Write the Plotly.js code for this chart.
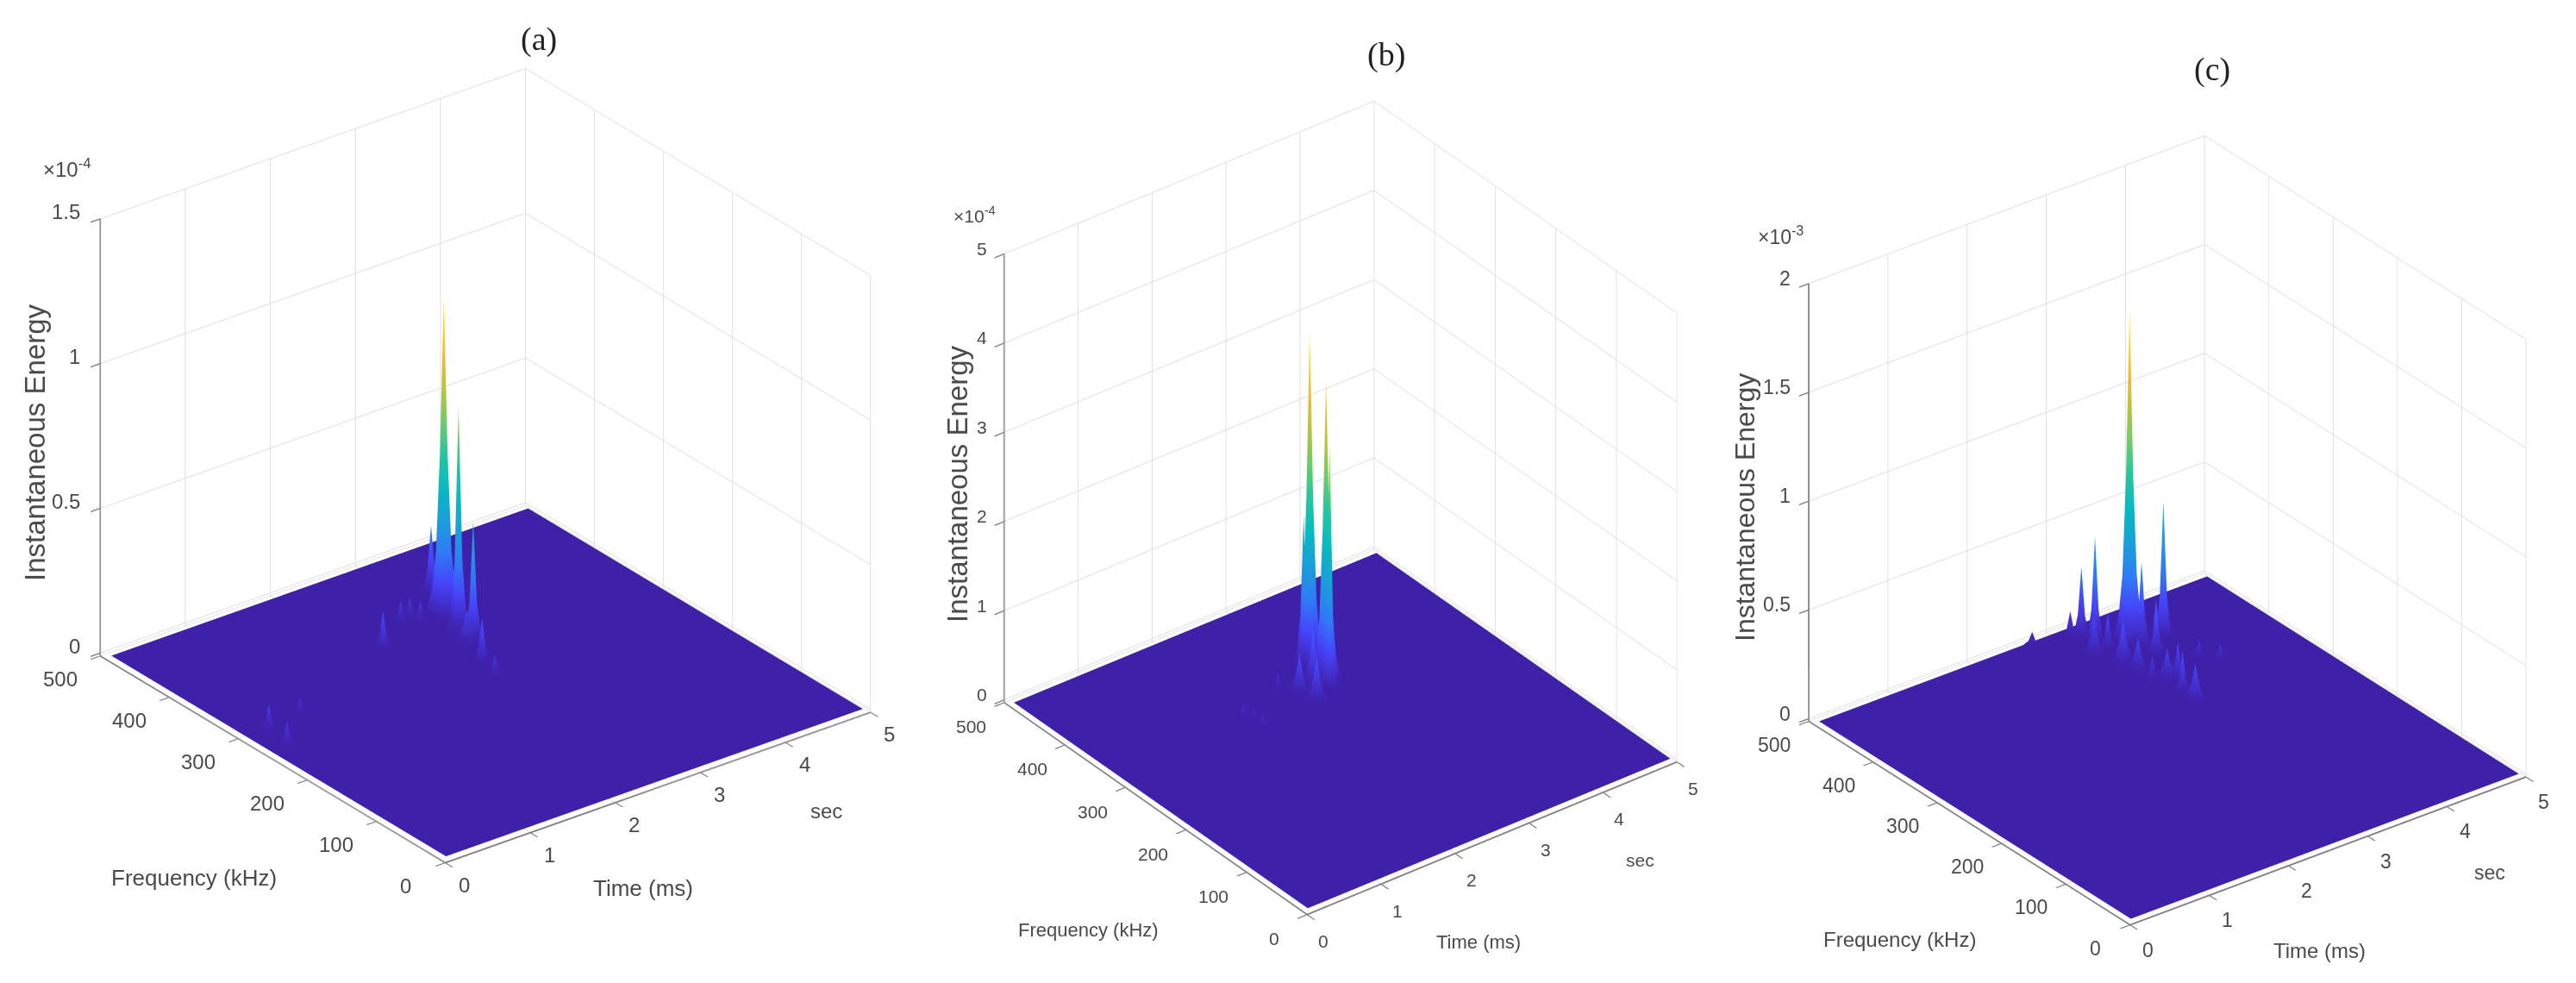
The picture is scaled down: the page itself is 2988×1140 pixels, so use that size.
<!DOCTYPE html>
<html><head><meta charset="utf-8">
<script src="https://cdn.plot.ly/plotly-3.0.1.min.js"></script>
<style>html,body{margin:0;padding:0;background:#fff}#plot{width:2988px;height:1140px;filter:blur(0.7px)}</style>
</head><body><div id="plot"></div>
<script>
// ---- values ----
const panelNames = ['(a)', '(b)', '(c)'];
const timeTicks = [0, 1, 2, 3, 4, 5];
const freqTicks = [0, 100, 200, 300, 400, 500];
const energyTicksA = [0, 0.5, 1, 1.5];
const energyLabelsA = ['0', '0.5', '1', '1.5'];
const energyTicksB = [0, 1, 2, 3, 4, 5];
const energyLabelsB = ['0', '1', '2', '3', '4', '5'];
const energyTicksC = [0, 0.5, 1, 1.5, 2];
const energyLabelsC = ['0', '0.5', '1', '1.5', '2'];
const multipliers = ['×10<sup>-4</sup>', '×10<sup>-4</sup>', '×10<sup>-3</sup>'];

// spikes: time (ms), frequency (kHz), height (in the panel's ×10^n unit), foot shape (1 wide, 0 narrow)
const peakTimeA = [3.03, 2.98, 2.93, 3.21, 2.16, 2.60, 2.73, 2.76, 2.66, 2.73, 0.30, 0.25, 0.75, 2.95, 2.85, 3.05];
const peakFreqA = [375, 347.5, 320, 415, 355, 385, 387.5, 375, 255, 282.5, 292.5, 260, 302.5, 345, 320, 365];
const peakEnergyA = [1.10, 0.76, 0.41, 0.23, 0.13, 0.075, 0.07, 0.075, 0.07, 0.15, 0.09, 0.08, 0.05, 0.13, 0.11, 0.14];
const peakShapeA = [1, 0, 0, 0, 0, 0, 0, 0, 0, 0, 0, 0, 0, 1, 1, 1];

const peakTimeB = [3.03, 2.99, 2.92, 3.02, 1.82, 1.88, 1.88, 2.48, 2.82, 2.66, 2.61];
const peakFreqB = [365, 335, 320, 375, 327.5, 317.5, 302.5, 350, 335, 307.5, 330];
const peakEnergyB = [3.75, 3.34, 2.7, 1.63, 0.15, 0.15, 0.15, 0.16, 0.6, 0.5, 0.45];
const peakShapeB = [1, 1, 0, 0, 0, 0, 0, 0, 1, 1, 1];

const peakTimeC = [3.53, 3.85, 3.26, 3.21, 3.57, 3.58, 3.29, 3.43, 3.31, 3.87, 3.99, 3.22, 3.24, 3.11, 2.70, 3.21, 3.22, 3.08, 3.34];
const peakFreqC = [435, 422.5, 455, 470, 422.5, 400, 305, 347.5, 325, 370, 352.5, 362.5, 435, 475, 485, 405, 385, 435, 355];
const peakEnergyC = [1.52, 0.62, 0.48, 0.32, 0.38, 0.25, 0.17, 0.17, 0.19, 0.08, 0.08, 0.11, 0.17, 0.12, 0.06, 0.2, 0.15, 0.17, 0.14];
const peakShapeC = [1, 0, 0, 0, 0, 0, 1, 0, 0, 0, 0, 0, 0, 0, 0, 1, 1, 1, 1];

// fall-off of a spike per grid ring, read from the widths of the spikes
const footWide = [1, 0.5, 0.2, 0.08, 0.03];
const footNarrow = [1, 0.3, 0.06];

const parula = [[0,'#3f20a8'],[0.1,'#4743f8'],[0.2,'#2f7cf6'],[0.3,'#1aa0d9'],[0.4,'#07b9c2'],[0.5,'#24c5a0'],[0.6,'#6ccb6d'],[0.7,'#b2c73f'],[0.8,'#efb936'],[0.9,'#f9d32a'],[1,'#f9fb15']];

const tStep = 0.025, fStep = 2.5, tStart = 0.05, fStart = 5, nT = 197, nF = 195;
const timeGrid = Array.from({length:nT}, (_, i) => +(tStart + i*tStep).toFixed(3));
const freqGrid = Array.from({length:nF}, (_, j) => +(fStart + j*fStep).toFixed(2));

function energySurface(pt, pf, pe, ps) {
  const z = freqGrid.map(() => new Array(nT).fill(0));
  pt.forEach((t, k) => {
    const foot = ps[k] ? footWide : footNarrow;
    const ci = Math.round((t - tStart)/tStep), cj = Math.round((pf[k] - fStart)/fStep);
    for (let dj = -foot.length+1; dj < foot.length; dj++)
      for (let di = -foot.length+1; di < foot.length; di++) {
        const j = cj + dj, i = ci + di;
        if (j < 0 || j >= nF || i < 0 || i >= nT) continue;
        z[j][i] = Math.max(z[j][i], pe[k]*foot[Math.max(Math.abs(di), Math.abs(dj))]);
      }
  });
  return z;
}

const W = 2988, H = 1140;
const DOM = 960;  // square scene size in px
const k = 480;
const panels = [
  {name:'scene', cx:563, cy:540, L:[622,657,571], e:27.4, zr:[-0.01,1.5], zt:energyTicksA, zl:energyLabelsA, p:[peakTimeA,peakFreqA,peakEnergyA,peakShapeA],
   fs:24, ts:26, is:33, xs:[22,-29], ys:[-46,-30], zs:[-21,8],
   title:[625,45], sec:[958,940], time:[746,1030], freq:[225,1018], inst:[40,513], mult:[78,195]},
  {name:'scene2', cx:1555, cy:589, L:[541,577,617], e:32.5, zr:[-0.03,5], zt:energyTicksB, zl:energyLabelsB, p:[peakTimeB,peakFreqB,peakEnergyB,peakShapeB],
   fs:21, ts:22, is:33, xs:[19,-34], ys:[-38,-31], zs:[-18,6],
   title:[1608,64], sec:[1902,998], time:[1715,1092], freq:[1262,1078], inst:[1110,561], mult:[1130,249]},
  {name:'scene3', cx:2520, cy:615, L:[579,612,581], e:29.1, zr:[-0.012,2], zt:energyTicksC, zl:energyLabelsC, p:[peakTimeC,peakFreqC,peakEnergyC,peakShapeC],
   fs:23, ts:24, is:32, xs:[21,-32], ys:[-40,-30], zs:[-19,6],
   title:[2566,80], sec:[2888,1012], time:[2690,1102], freq:[2203,1089], inst:[2024,589], mult:[2065,273]}
];
const ax = (range, tickvals) => ({range, tickvals, autorange:false, title:{text:''}, showticklabels:false, showbackground:false,
  showgrid:true, gridcolor:'#dedede', gridwidth:2, zeroline:false, showspikes:false, showline:true, linecolor:'#808080', linewidth:4,
  ticks:'outside', ticklen:14, tickcolor:'#808080', tickwidth:3});

const traces = [], layout = {width:W, height:H, margin:{l:0,r:0,t:0,b:0}, paper_bgcolor:'#fff', showlegend:false, annotations:[]};
const txt = '#4a4a4a', SANS = '"Liberation Sans", Arial, sans-serif';
panels.forEach((p, n) => {
  const z = energySurface(...p.p);
  traces.push({type:'surface', scene:p.name, x:timeGrid, y:freqGrid, z, cmin:0, cmax:Math.max(...p.p[2]), colorscale:parula, showscale:false,
    hoverinfo:'skip', lighting:{ambient:1, diffuse:0, specular:0, roughness:1, fresnel:0}, contours:{x:{show:false},y:{show:false},z:{show:false}}});
  const eRad = p.e*Math.PI/180, D = 2;
  const note = (x,y,zz,text,sh,anchor) => ({x,y,z:zz,text,showarrow:false,xshift:sh[0],yshift:sh[1],xanchor:anchor||'center',yanchor:'middle',font:{family:SANS,size:p.fs,color:txt}});
  const annos = [];
  timeTicks.forEach(t => annos.push(note(t,0,0,String(t),p.xs)));
  freqTicks.forEach(f => annos.push(note(0,f,0,String(f),p.ys)));
  p.zt.forEach((v,i) => annos.push(note(0,500,v,p.zl[i],p.zs,'right')));
  layout[p.name] = {
    domain:{x:[(p.cx-DOM/2)/W,(p.cx+DOM/2)/W], y:[1-(p.cy+DOM/2)/H,1-(p.cy-DOM/2)/H]},
    aspectmode:'manual', aspectratio:{x:p.L[0]/k,y:p.L[1]/k,z:p.L[2]/k},
    camera:{projection:{type:'orthographic'}, center:{x:0,y:0,z:0}, up:{x:0,y:0,z:1},
      eye:{x:-0.609*Math.cos(eRad)*D, y:-0.793*Math.cos(eRad)*D, z:Math.sin(eRad)*D}},
    xaxis:ax([0,5],timeTicks), yaxis:ax([0,500],freqTicks), zaxis:ax(p.zr,p.zt), annotations:annos, bgcolor:'rgba(0,0,0,0)'
  };
  const paper = (xy,text,size,extra,fam) => Object.assign({xref:'paper',yref:'paper',x:xy[0]/W,y:1-xy[1]/H,text,showarrow:false,xanchor:'center',yanchor:'middle',
    font:{family:fam||SANS,size,color:fam?'#222':txt}},extra||{});
  layout.annotations.push(paper(p.title,panelNames[n],38,null,'"Liberation Serif", serif'));
  layout.annotations.push(paper(p.sec,'sec',p.fs));
  layout.annotations.push(paper(p.time,'Time (ms)',p.ts));
  layout.annotations.push(paper(p.freq,'Frequency (kHz)',p.ts));
  layout.annotations.push(paper(p.inst,'Instantaneous Energy',p.is,{textangle:-90}));
  layout.annotations.push(paper(p.mult,multipliers[n],p.fs));
});
Plotly.newPlot('plot', traces, layout, {displayModeBar:false});
</script></body></html>
